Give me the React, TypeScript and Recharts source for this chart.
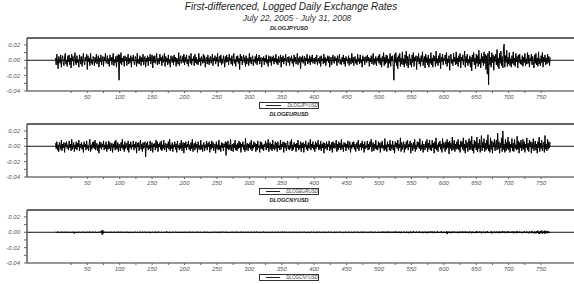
import { Legend, Line, LineChart, ReferenceLine, XAxis, YAxis } from "recharts";

// first differences of the log rates (JPY/EUR in 0.001, CNY in 0.0002)
const jpyMilli = [
  3, -6, 8, -2, -11, 5, 1, -4, 7, -9, 2, 6, -3, -7, 4, 9, -5, 0, -8, 6,
  -2, 7, -6, 3, -10, 8, -1, 5, -7, 2, 10, -4, -6, 6, -3, 1, -9, 7, 3, -5,
  5, -8, 2, 9, -3, -6, 4, -1, 8, -12, 6, -2, 3, -7, 9, -4, 1, -6, 5, 2,
  -7, 4, -3, 8, -5, 1, 6, -9, 3, -2, 7, -6, 2, 5, -8, 4, -1, 9, -4, -3,
  6, -5, 2, -8, 7, -1, 4, -6, 3, 9, -7, 1, -3, 5, -9, 6, -2, 8, -26, 7,
  -4, 10, -6, 3, -2, 5, -8, 6, -1, 4, -7, 2, 8, -5, 3, -3, 6, -9, 4, -1,
  7, -3, -6, 5, 2, -8, 9, -4, 1, -5, 6, 3, -7, 4, -2, 8, -6, 1, 5, -9,
  3, -2, 6, -7, 4, -1, 8, -5, 2, 7, -10, 5, -3, 6, -4, 1, 9, -6, 3, -2,
  -5, 8, -1, 4, -7, 6, -3, 2, 9, -8, 5, -2, 3, -6, 7, -4, 1, -9, 6, 2,
  -3, 5, -6, 7, -2, 4, -8, 3, 1, -5, 10, -7, 2, 6, -4, -1, 5, -3, 8, -6,
  4, -2, 7, -5, 1, -8, 6, 3, -4, 9, -6, 2, -1, 5, -7, 8, -3, 4, -5, 1,
  -6, 9, -2, 3, -7, 5, 1, -4, 8, -3, 6, -9, 2, 4, -5, 7, -1, -6, 3, 5,
  -4, 2, 8, -7, 3, -1, 6, -5, 4, -2, 9, -8, 1, 5, -3, 7, -6, 2, -4, 6,
  1, -9, 5, -3, 7, -2, 4, -6, 8, -1, 3, -5, 6, -7, 2, 9, -4, 1, -8, 5,
  -2, 6, -4, 3, -12, 8, -1, 5, -6, 2, 7, -3, 4, -8, 6, -5, 1, 3, -7, 9,
  -3, 4, -5, 2, 6, -7, 1, -2, 5, -4, 8, -6, 3, -1, 7, -5, 2, 4, -9, 3,
  -1, 5, -6, 3, -2, 7, -4, 1, -8, 6, 2, -3, 5, -7, 4, -1, 6, -5, 3, -2,
  8, -4, 2, -6, 5, -3, 1, 7, -9, 4, -2, 6, -5, 3, -1, 8, -7, 2, 4, -3,
  5, -7, 3, -1, 6, -4, 2, -8, 7, -2, 4, -5, 1, 9, -6, 3, -3, 5, -11, 4,
  -2, 6, -4, 1, 5, -7, 3, -1, 8, -5, 2, -3, 6, -6, 4, -2, 7, -4, 1, 3,
  -5, 4, -2, 7, -6, 1, 3, -4, 5, -8, 6, -1, 2, -5, 8, -3, 4, -7, 2, -1,
  6, -3, 5, -9, 2, 4, -6, 1, 7, -2, -4, 5, -1, 3, -7, 6, -3, 2, 8, -5,
  1, -6, 4, -2, 7, -5, 3, -8, 5, -1, 2, -4, 6, -7, 3, 1, -5, 9, -3, 4,
  -7, 2, 5, -4, 1, -6, 8, -2, 3, -5, 7, -3, 1, -9, 6, -1, 4, -6, 2, 5,
  -3, 7, -1, 4, -8, 3, -2, 6, -5, 1, 9, -6, 2, -4, 5, -7, 3, -1, 6, -4,
  8, -6, 3, -9, 5, -2, 10, -7, 4, -5, 7, -3, 6, -10, 2, -4, 9, -8, 5, -1,
  6, -9, -26, 8, -3, 10, -7, 4, -11, 6, -2, 9, -8, 3, -5, 11, -6, 2, -9, 7,
  -4, 12, -7, 5, -10, 3, 8, -6, 2, -9, 7, -3, 10, -8, 4, -1, 6, -12, 5, -2,
  9, -5, 3, -8, 6, -2, 11, -7, 1, 5, -10, 8, -3, 4, -6, 7, -9, 2, -4, 10,
  -6, 3, -9, 7, -1, 5, -8, 12, -4, 2, -7, 6, -3, 9, -11, 4, -2, 8, -6, 3,
  -1, 7, -5, 10, -8, 2, -3, 6, -13, 5, 8, -4, 1, -7, 9, -2, 4, -6, 11, -5,
  3, -8, 6, -2, 9, -10, 4, -1, 7, -6, 2, 12, -9, 5, -3, 8, -7, 1, -4, 6,
  -9, 4, -14, 7, -2, 10, -6, 3, -11, 8, -4, 6, -8, 13, -5, 2, -10, 9, -3, 5,
  -7, 11, -4, 8, -12, 6, -18, 9, -32, 12, -6, 4, -9, 10, -3, 7, -13, 5, -2, 8,
  -6, 14, -8, 3, -11, 9, -4, 12, -7, 5, -10, 16, 21, -9, 6, -3, 13, -8, 4, -5,
  10, -7, 2, -9, 6, -4, 11, -6, 3, -8, 9, -2, 5, -10, 7, -3, 8, -5, 1, -6,
  6, -8, 4, -3, 9, -7, 2, -5, 10, -4, 7, -9, 3, -1, 8, -6, 5, -2, -10, 7,
  -4, 9, -6, 3, -8, 11, -5, 2, -7, 6, -3, 10, -9, 4, -2, 7, -6, 3, -5, 8,
  -3, 5, -7, 4,
];

const eurMilli = [
  4, -3, 6, -5, 2, -7, 5, 1, -4, 8, -6, 3, -2, 5, -8, 4, -1, 6, -3, 2,
  -5, 7, -2, 3, -6, 9, -4, 1, 5, -7, 2, -3, 6, -5, 4, -1, 8, -6, 3, -2,
  5, -4, 2, -8, 6, -1, 3, -5, 7, -3, 1, -6, 4, 9, -7, 2, -4, 5, -2, 6,
  -3, 8, -5, 1, 4, -6, 2, -9, 6, -2, 5, -4, 3, -1, 7, -5, 2, -3, 6, -7,
  2, -4, 7, -3, 5, -6, 1, 4, -8, 3, -2, 6, -5, 8, -1, -4, 5, -7, 3, 1,
  -6, 5, -2, 9, -4, 2, -7, 6, -3, 1, 4, -5, 7, -8, 3, -2, 6, -4, 2, -1,
  7, -5, 3, -2, 6, -9, 4, -1, 5, -6, 2, 8, -4, 3, -7, 5, -3, 1, 6, -14,
  4, -2, 6, -5, 1, -3, 7, -6, 2, 5, -8, 3, -1, 4, -5, 8, -2, 6, -7, 3,
  -1, 5, -4, 7, -6, 2, -3, 8, -5, 1, 4, -7, 3, -2, 6, -4, 9, -6, 2, -3,
  5, -7, 2, -1, 6, -4, 3, -8, 7, -2, 1, -5, 4, -3, 8, -6, 2, 5, -9, 4,
  -2, 6, -5, 3, -1, 7, -4, 2, -6, 5, -3, 9, -7, 1, 4, -5, 6, -2, 3, -8,
  6, -3, 1, -5, 8, -4, 2, -7, 3, 5, -6, 2, -2, 7, -5, 4, -1, 6, -8, 3,
  -4, 7, -2, 5, -6, 1, 3, -9, 6, -3, 2, -5, 8, -4, 1, -7, 5, -2, 4, -6,
  3, -1, 6, -12, 5, -3, 7, -5, 2, -4, 9, -6, 1, 3, -7, 4, -2, 8, -5, 2,
  -6, 4, -3, 7, -2, 5, -8, 3, -1, 6, -4, 2, -7, 10, -5, 1, 4, -6, 3, -2,
  5, -4, 8, -6, 2, -3, 6, -1, 4, -7, 3, -5, 7, -2, 1, -8, 6, -3, 5, -4,
  2, -6, 3, -1, 7, -5, 4, -2, 9, -7, 1, 5, -4, 3, -6, 8, -3, 2, -5, 6,
  -3, 4, -7, 6, -2, 1, -5, 8, -4, 3, -1, 6, -8, 5, -2, 4, -6, 2, 7, -4,
  1, -5, 6, -3, 9, -6, 2, -4, 5, -1, 3, -7, 4, -2, 8, -5, 1, -3, 6, -7,
  4, -2, 5, -8, 3, -1, 7, -4, 2, -6, 5, -3, 1, 9, -5, 3, -2, 6, -4, 2,
  -7, 6, -3, 4, -1, 8, -5, 2, -4, 7, -6, 3, -2, 5, -9, 4, 1, -3, 6, -5,
  3, -1, 7, -6, 2, -4, 5, -8, 6, -2, 4, -3, 1, 8, -7, 3, -5, 6, -2, 4,
  -5, 9, -3, 2, -7, 5, -1, 4, -6, 3, -2, 7, -4, 1, 6, -8, 2, -3, 5, -1,
  6, -4, 3, -7, 1, 5, -3, 8, -6, 2, -1, 4, -5, 7, -2, 3, -8, 6, -3, 1,
  -2, 7, -5, 3, -4, 6, -1, 9, -7, 2, 5, -6, 3, -3, 8, -4, 1, -5, 6, -2,
  4, -8, 5, -2, 7, -3, 1, -6, 10, -4, 2, -7, 6, -1, 3, -5, 8, -6, 2, -3,
  7, -5, 2, -9, 6, -1, 4, -3, 8, -6, 3, -2, 11, -7, 5, -4, 1, 6, -8, 3,
  -4, 6, -2, 8, -5, 3, -1, 7, -9, 4, 2, -6, 5, -3, 9, -7, 2, -4, 6, -1,
  5, -3, 10, -6, 2, -4, 7, -8, 3, 1, -5, 6, -2, 9, -7, 4, -3, 8, -5, 2,
  -6, 8, -2, 4, -9, 6, -3, 11, -5, 2, -7, 5, -1, 7, -4, 3, -8, 10, -3, 5,
  2, -7, 6, -4, 9, -2, 5, -10, 7, -3, 4, -6, 12, -5, 1, 8, -7, 3, -4, 6,
  -3, 9, -5, 2, -8, 7, -1, 6, -4, 11, -6, 3, -9, 8, -2, 5, -7, 4, 10, -5,
  7, -4, 13, -6, 3, -9, 8, -2, 6, -5, 12, -7, 4, -3, 9, -8, 2, 14, -6, 5,
  -2, 10, -7, 4, -5, 8, -3, 15, -6, 2, -8, 11, -4, 7, -9, 5, -1, 9, -6, 3,
  8, -5, 17, -3, 6, -9, 4, -2, 11, -7, 20, -4, 3, -8, 9, -6, 5, -3, 12, -5,
  6, -8, 3, -2, 10, -6, 4, -7, 9, -3, 2, -5, 13, -4, 7, -9, 5, -2, 8, -6,
  -3, 9, -4, 6, -8, 3, -2, 11, -5, 4, -7, 8, -1, 6, -9, 5, -3, 10, -6, 2,
  7, -5, 3, -9, 6, -2, 12, -7, 4, -3, 8, -6, 2, 5, -8, 14, -4, 3, -6, 9,
  -4, 6, -2, 5,
];

const cnyFifthMilli = [
  1, -2, 0, 3, -1, 2, -3, 1, 0, -2, 4, -1, 2, -3, 1, 0, -1, 2, -2, 1,
  -1, 3, -2, 0, 1, -4, 2, -1, 3, -9, 1, 0, -2, 2, -1, 3, -2, 1, 0, -3,
  2, -1, 0, 3, -2, 1, -3, 2, 0, -1, 4, -2, 1, -1, 3, -3, 0, 2, -1, 1,
  -2, 1, 3, -1, 0, -3, 2, -2, 1, 4, -1, 11, -16, 13, -7, 4, -4, 2, -1, 0,
  2, -3, 1, 0, -2, 3, -1, 2, -4, 1, 0, 3, -2, -1, 2, -3, 1, 4, -2, 0,
  1, -2, 3, -1, 0, 2, -3, 1, -1, 4, -2, 0, 2, -5, 1, 3, -1, -2, 2, 0,
  -3, 2, 1, -1, 3, -2, 0, 2, -4, 1, -1, 3, 0, -2, 1, -3, 2, -1, 4, -2,
  0, 1, -2, 3, -1, 2, -6, 1, 0, -1, 3, -2, 2, -1, 0, 4, -3, 1, -2, 2,
  -1, 3, -2, 0, 2, -1, 1, -3, 2, 0, -2, 5, -1, 1, -3, 2, 0, -1, 3, -2,
  1, -1, 2, -3, 0, 3, -2, 1, -1, 2, -4, 1, 3, -2, 0, -1, 2, -3, 1, 0,
  2, -2, 1, 0, -3, 2, -1, 4, -2, 1, -1, 3, -2, 0, 1, -3, 2, -1, 0, 3,
  -2, 1, -1, 3, 0, -2, 2, -4, 1, -1, 3, -2, 0, 2, -1, 1, -3, 2, -1, 0,
  1, -3, 2, 0, -1, 3, -2, 1, -1, 2, 0, -3, 4, -1, 1, -2, 2, 0, -1, 3,
  -2, 1, 0, -1, 3, -2, 2, -5, 1, 0, -1, 3, -2, 1, 2, -3, 0, 1, -1, 2,
  -1, 2, -3, 1, 0, 2, -2, 3, -1, -1, 2, -4, 1, 3, -2, 0, 1, -2, 3, -1,
  2, -1, 0, 3, -3, 1, -1, 2, -2, 0, 4, -2, 1, -1, 2, -3, 1, 0, -2, 3,
  -1, 2, -2, 1, 0, -3, 3, -1, 2, -2, 0, 1, -4, 2, -1, 3, -2, 1, 0, -1,
  3, -2, 1, -1, 2, 0, -3, 2, -1, 1, 4, -3, 0, 2, -2, 1, -1, 3, -2, 0,
  1, -1, 3, -2, 0, 2, -3, 1, -1, 4, -2, 0, 1, -3, 2, -1, 2, -2, 1, 0,
  -2, 3, -1, 0, 2, -2, 1, -4, 3, -1, 0, 2, -3, 1, -1, 3, -2, 0, 2, -1,
  2, -3, 1, -1, 4, -2, 0, 2, -1, -3, 3, -2, 1, 0, -1, 2, -4, 3, -1, 1,
  -1, 2, -2, 3, -1, 0, 1, -3, 2, -2, 1, 4, -3, 0, 2, -1, 1, -2, 3, -1,
  3, -2, 0, 1, -3, 2, -1, 2, -2, 1, 0, -4, 3, -1, 1, -2, 2, 0, -3, 2,
  -2, 4, -1, 0, 2, -3, 1, -1, 3, -2, 0, 1, -2, 4, -3, 1, -1, 2, -1, 0,
  1, -2, 3, -3, 0, 2, -1, 4, -2, 1, -3, 2, 0, -1, 3, -4, 2, -1, 1, -2,
  3, -4, 2, -1, 5, -3, 1, -2, 4, -5, 2, 0, -3, 6, -2, 1, -4, 3, -1, 2,
  -3, 5, -2, 1, -4, 6, -1, 2, -5, 3, -2, 4, -6, 1, 3, -4, 2, -1, 5, -3,
  2, -5, 4, -1, 3, -6, 2, -2, 5, -3, 1, -4, 7, -2, 3, -5, 1, 4, -3, 2,
  -4, 6, -2, 3, -5, 1, 4, -6, 2, -1, 5, -3, 2, -7, 4, -2, 3, -4, 6, -1,
  3, -2, 5, -6, 1, 4, -3, 2, -5, 7, -2, 1, -4, 3, -1, 6, -5, 2, -3, 4,
  -5, 2, -3, 6, -12, 4, -2, 5, -3, 1, -6, 4, -1, 3, -5, 6, -2, 1, -4, 3,
  2, -6, 4, -2, 5, -3, 1, -5, 7, -4, 2, -1, 6, -5, 3, -2, 4, -6, 1, 5,
  -3, 4, -7, 2, 5, -4, 1, -6, 3, -2, 8, -5, 2, -3, 6, -1, 4, -7, 3, -2,
  5, -3, 2, -6, 4, -1, 7, -5, 2, -4, 3, -2, 6, -8, 1, 4, -3, 5, -6, 2,
  -2, 6, -4, 3, -7, 5, -1, 2, -5, 8, -3, 4, -2, 6, -6, 1, 3, -4, 7, -3,
  4, -5, 2, -3, 6, -2, 5, -7, 3, -1, 4, -6, 8, -3, 2, -5, 6, -2, 3, -4,
  -6, 3, -1, 7, -4, 2, -5, 6, -3, 1, -7, 5, -2, 4, -6, 9, -3, 2, -8, 5,
  3, -7, 6, -4, 10, -8, 5, -11, 7, -3, 12, -9, 4, -6, 11, -10, 8, -5, 9, -7,
  6, -4, 3, -2,
];

const xLabelTicks = [50, 100, 150, 200, 250, 300, 350, 400, 450, 500, 550, 600, 650, 700, 750];
const xMinorTicks = [25, 75, 125, 175, 225, 275, 325, 375, 425, 475, 525, 575, 625, 675, 725];
const yLabelTicks = [-0.04, -0.02, 0, 0.02];
const yMinorTicks = [-0.03, -0.01, 0.01];

const X_DOMAIN: [number, number] = [-43, 810];
const Y_DOMAIN: [number, number] = [-0.04, 0.029];
const FONT = "'Liberation Sans', Arial, sans-serif";

type Point = { day: number; value: number };

const toRows = (values: number[], scale: number): Point[] =>
  values.map((v, i) => ({ day: i + 1, value: v / scale }));

const panels = [
  { name: "DLOGJPYUSD", rows: toRows(jpyMilli, 1000), top: 38 },
  { name: "DLOGEURUSD", rows: toRows(eurMilli, 1000), top: 124 },
  { name: "DLOGCNYUSD", rows: toRows(cnyFifthMilli, 5000), top: 210 },
];

const xTicks = [...xMinorTicks, ...xLabelTicks].sort((a, b) => a - b);
const yTicks = [...yMinorTicks, ...yLabelTicks].sort((a, b) => a - b);

function XTick({ x, y, payload }: any) {
  if (payload.value % 50 !== 0) return null;
  return (
    <text x={x} y={y} dy={4.5} textAnchor="middle" fontSize={6} fontStyle="italic" fill="#555" fontFamily={FONT}>
      {payload.value}
    </text>
  );
}

function YTick({ x, y, payload }: any) {
  if (!yLabelTicks.some((t) => Math.abs(t - payload.value) < 1e-9)) return null;
  return (
    <text x={x} y={y} dy={2} textAnchor="end" fontSize={6} fontStyle="italic" fill="#555" fontFamily={FONT}>
      {payload.value.toFixed(2)}
    </text>
  );
}

function LegendBox({ name }: { name: string }) {
  return (
    <div
      style={{
        marginTop: 1,
        width: 60,
        height: 7,
        border: "1px solid #333",
        display: "flex",
        alignItems: "center",
        boxSizing: "border-box",
        background: "#fff",
      }}
    >
      <div style={{ width: 16, height: 1, background: "#222", marginLeft: 6, marginRight: 6 }} />
      <span style={{ fontSize: 4.5, fontStyle: "italic", color: "#444", fontFamily: FONT, lineHeight: "5px" }}>
        {name}
      </span>
    </div>
  );
}

function Panel({ name, rows, top }: { name: string; rows: Point[]; top: number }) {
  return (
    <>
      <div
        style={{
          position: "absolute",
          top: top - 13,
          left: 0,
          width: 574,
          textAlign: "center",
          fontSize: 5.5,
          fontWeight: "bold",
          fontStyle: "italic",
          fontFamily: FONT,
          color: "#222",
          paddingLeft: 2,
        }}
      >
        {name}
      </div>
      <div style={{ position: "absolute", top: top - 2, left: 0 }}>
        <LineChart width={620} height={75} data={rows} margin={{ top: 2, right: 40, left: 0, bottom: 0 }}>
          <XAxis
            dataKey="day"
            type="number"
            domain={X_DOMAIN}
            allowDataOverflow
            ticks={xTicks}
            interval={0}
            height={10}
            tickSize={2}
            tickMargin={1}
            tick={<XTick />}
            axisLine={{ stroke: "#333", strokeWidth: 1.2 }}
            tickLine={{ stroke: "#666" }}
          />
          <YAxis
            type="number"
            domain={Y_DOMAIN}
            allowDataOverflow
            ticks={yTicks}
            interval={0}
            width={27}
            tickSize={3}
            tickMargin={4}
            tick={<YTick />}
            axisLine={{ stroke: "#333", strokeWidth: 1.2 }}
            tickLine={{ stroke: "#666" }}
          />
          <ReferenceLine y={Y_DOMAIN[1]} stroke="#333" strokeWidth={1.5} />
          <ReferenceLine y={0} stroke="#111" strokeWidth={1} />
          <Line
            type="linear"
            dataKey="value"
            name={name}
            stroke="#000"
            strokeWidth={1}
            dot={false}
            isAnimationActive={false}
          />
          <Legend
            verticalAlign="bottom"
            align="left"
            height={10}
            wrapperStyle={{ left: 259 }}
            content={() => <LegendBox name={name} />}
          />
        </LineChart>
      </div>
    </>
  );
}

export default function App() {
  return (
    <div
      style={{
        position: "absolute",
        left: 0,
        top: 0,
        width: 574,
        height: 284,
        overflow: "hidden",
        background: "#fff",
        fontFamily: FONT,
      }}
    >
      <div
        style={{
          position: "absolute",
          top: 1,
          left: 0,
          width: 574,
          textAlign: "center",
          fontSize: 10,
          fontStyle: "italic",
          color: "#222",
          paddingLeft: 4,
        }}
      >
        First-differenced, Logged Daily Exchange Rates
      </div>
      <div
        style={{
          position: "absolute",
          top: 13,
          left: 0,
          width: 574,
          textAlign: "center",
          fontSize: 8.5,
          fontStyle: "italic",
          color: "#333",
          paddingLeft: 10,
        }}
      >
        July 22, 2005 - July 31, 2008
      </div>
      {panels.map((p) => (
        <Panel key={p.name} name={p.name} rows={p.rows} top={p.top} />
      ))}
    </div>
  );
}
